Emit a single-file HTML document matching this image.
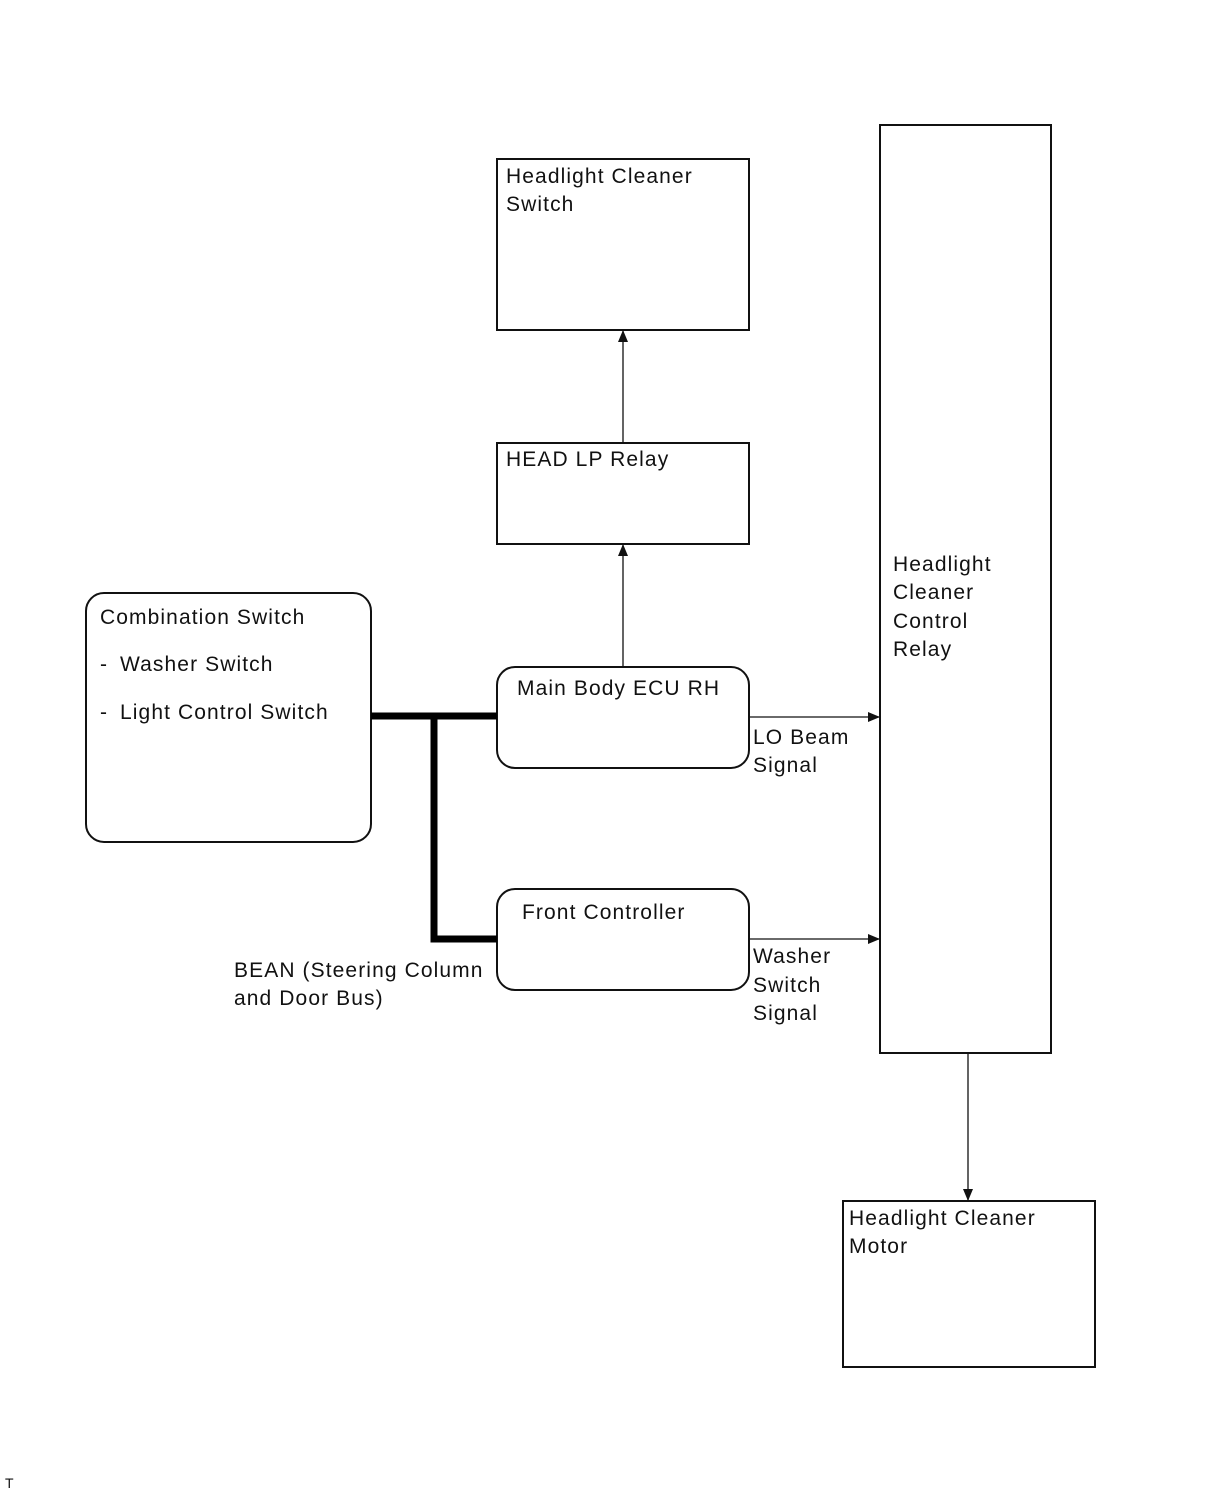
<!DOCTYPE html>
<html><head><meta charset="utf-8"><style>
html,body{margin:0;padding:0;background:#fff;}
svg{display:block;}
text{font-family:"Liberation Sans",Arial,sans-serif;font-size:21px;fill:#111;letter-spacing:1.1px;}
</style></head><body>
<svg width="1210" height="1498" viewBox="0 0 1210 1498" xmlns="http://www.w3.org/2000/svg">
<defs><marker id="a" markerWidth="12" markerHeight="10" refX="11" refY="5" orient="auto" markerUnits="userSpaceOnUse"><path d="M0,0 L12,5 L0,10 z" fill="#111"/></marker></defs>
<g fill="none" stroke="#111" stroke-width="2">
<rect x="497" y="159" width="252" height="171"/>
<rect x="497" y="443" width="252" height="101"/>
<rect x="497" y="667" width="252" height="101" rx="18"/>
<rect x="497" y="889" width="252" height="101" rx="18"/>
<rect x="86" y="593" width="285" height="249" rx="18"/>
<rect x="880" y="125" width="171" height="928"/>
<rect x="843" y="1201" width="252" height="166"/>
</g>
<g stroke="#111" stroke-width="1.3" fill="none">
<line x1="623" y1="667" x2="623" y2="545" marker-end="url(#a)"/>
<line x1="623" y1="443" x2="623" y2="331" marker-end="url(#a)"/>
<line x1="749" y1="717" x2="879" y2="717" marker-end="url(#a)"/>
<line x1="749" y1="939" x2="879" y2="939" marker-end="url(#a)"/>
<line x1="968" y1="1053" x2="968" y2="1200" marker-end="url(#a)"/>
</g>
<g stroke="#000" stroke-width="7" fill="none">
<line x1="371" y1="716" x2="497" y2="716"/>
<polyline points="434,716 434,939 497,939"/>
</g>
<text x="506" y="183">Headlight Cleaner</text>
<text x="506" y="211">Switch</text>
<text x="506" y="466">HEAD LP Relay</text>
<text x="517" y="695">Main Body ECU RH</text>
<text x="522" y="919">Front Controller</text>
<text x="100" y="624">Combination Switch</text>
<text x="100" y="671">-</text><text x="120" y="671">Washer Switch</text>
<text x="100" y="719">-</text><text x="120" y="719">Light Control Switch</text>
<text x="893" y="571">Headlight</text>
<text x="893" y="599">Cleaner</text>
<text x="893" y="628">Control</text>
<text x="893" y="656">Relay</text>
<text x="849" y="1225">Headlight Cleaner</text>
<text x="849" y="1253">Motor</text>
<text x="753" y="744">LO Beam</text>
<text x="753" y="772">Signal</text>
<text x="753" y="963">Washer</text>
<text x="753" y="992">Switch</text>
<text x="753" y="1020">Signal</text>
<text x="234" y="977">BEAN (Steering Column</text>
<text x="234" y="1005">and Door Bus)</text>
<text x="5" y="1488" style="font-size:14px;letter-spacing:0">T</text>
</svg>
</body></html>
